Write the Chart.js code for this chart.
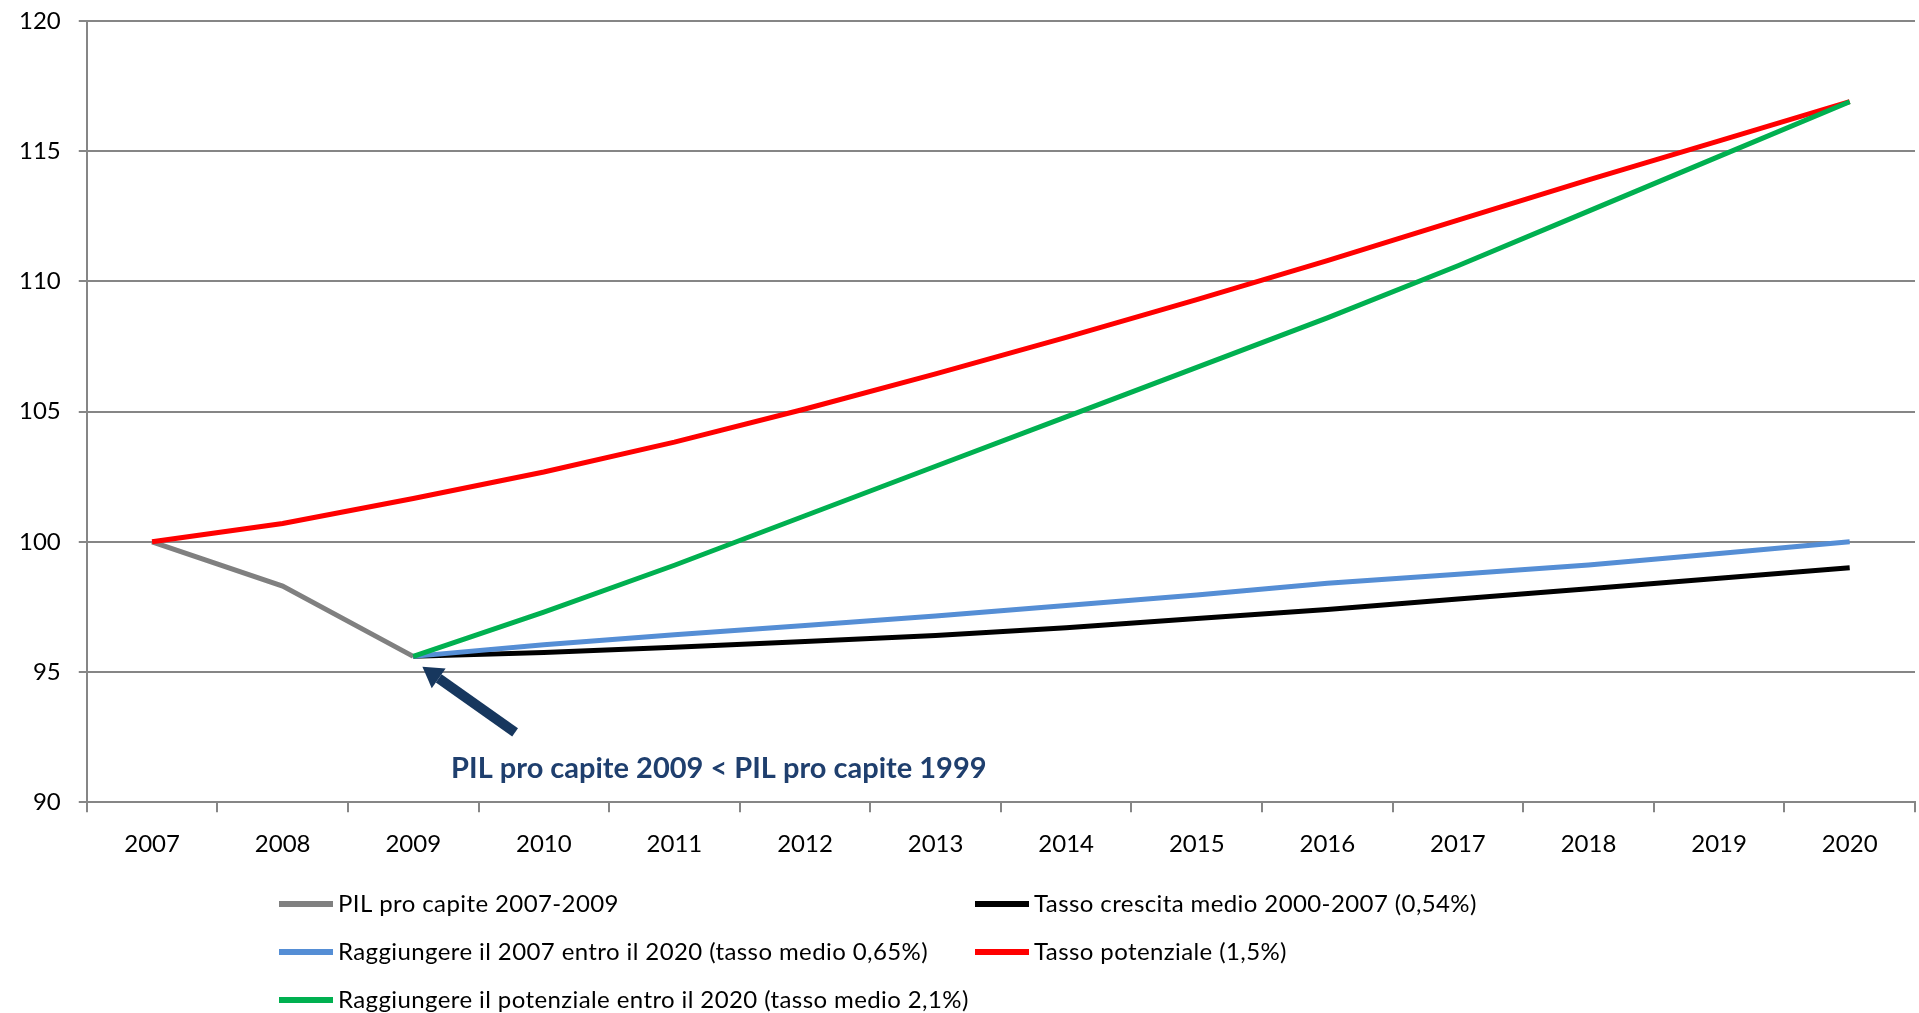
<!DOCTYPE html>
<html lang="it">
<head>
<meta charset="utf-8">
<title>PIL pro capite</title>
<script src="https://cdn.jsdelivr.net/npm/chart.js@4/dist/chart.umd.min.js"></script>
<style>
    html, body { margin: 0; padding: 0; background: #fff; }
    .chart-wrap { position: relative; width: 1919px; height: 1013px; }
</style>
</head>
<body>
<div class="chart-wrap"><canvas id="pilChart"></canvas></div>
<script>
var years = ['2007', '2008', '2009', '2010', '2011', '2012', '2013', '2014', '2015', '2016', '2017', '2018', '2019', '2020'];

var pil0709 = [100, 98.3, 95.6, null, null, null, null, null, null, null, null, null, null, null];
var tassoMedio = [null, null, 95.6, 95.75, 95.95, 96.17, 96.4, 96.7, 97.05, 97.4, 97.8, 98.2, 98.6, 99.0];
var raggiungere2007 = [null, null, 95.6, 96.05, 96.43, 96.79, 97.15, 97.55, 97.96, 98.41, 98.75, 99.11, 99.55, 100.0];
var tassoPotenziale = [100, 100.7, 101.66, 102.68, 103.83, 105.1, 106.45, 107.85, 109.3, 110.8, 112.35, 113.9, 115.4, 116.9];
var raggiungerePotenziale = [null, null, 95.6, 97.3, 99.1, 101.0, 102.9, 104.8, 106.7, 108.6, 110.6, 112.7, 114.8, 116.9];

var yTicks = [90, 95, 100, 105, 110, 115, 120];

var seriesLabels = [
    'PIL pro capite 2007-2009',
    'Tasso crescita medio 2000-2007 (0,54%)',
    'Raggiungere il 2007 entro il 2020 (tasso medio 0,65%)',
    'Tasso potenziale (1,5%)',
    'Raggiungere il potenziale entro il 2020 (tasso medio 2,1%)'
];

var noteText = 'PIL pro capite 2009 < PIL pro capite 1999';
// arrow and note placed in data units (category index, value)
var arrowTip = [2.07, 95.2];
var arrowTail = [2.78, 92.68];
var noteAt = [4.34, 91.3];

(function () {
    'use strict';

    var FONT = 'Lato, "Open Sans", sans-serif';
    var GRID = '#868686';

    function line(label, data, color, order) {
        return { label: label, data: data, borderColor: color, backgroundColor: color, borderWidth: 5, pointRadius: 0, pointHoverRadius: 0, tension: 0, fill: false, order: order };
    }

    var notePlugin = {
        id: 'notePlugin',
        afterDatasetsDraw: function (chart) {
            var ctx = chart.ctx, sx = chart.scales.x, sy = chart.scales.y;
            var tx = sx.getPixelForValue(arrowTip[0]), ty = sy.getPixelForValue(arrowTip[1]);
            var bx = sx.getPixelForValue(arrowTail[0]), by = sy.getPixelForValue(arrowTail[1]);
            var ang = Math.atan2(ty - by, tx - bx);
            var headLen = 20, headHalf = 12;
            var hx = tx - Math.cos(ang) * headLen, hy = ty - Math.sin(ang) * headLen;

            ctx.save();
            ctx.strokeStyle = '#17375E';
            ctx.fillStyle = '#17375E';
            ctx.lineWidth = 10;
            ctx.beginPath();
            ctx.moveTo(bx, by);
            ctx.lineTo(hx, hy);
            ctx.stroke();
            ctx.beginPath();
            ctx.moveTo(tx, ty);
            ctx.lineTo(hx + Math.sin(ang) * headHalf, hy - Math.cos(ang) * headHalf);
            ctx.lineTo(hx - Math.sin(ang) * headHalf, hy + Math.cos(ang) * headHalf);
            ctx.closePath();
            ctx.fill();

            ctx.font = 'bold 29px ' + FONT;
            ctx.textAlign = 'center';
            ctx.textBaseline = 'middle';
            ctx.fillStyle = '#1F3F6E';
            ctx.fillText(noteText, sx.getPixelForValue(noteAt[0]), sy.getPixelForValue(noteAt[1]));
            ctx.restore();
        }
    };

    // two-column legend under the axis, like the spreadsheet original
    var legendPlugin = {
        id: 'gridLegend',
        afterDraw: function (chart) {
            var ctx = chart.ctx;
            var cols = [279, 975];
            var rows = [904, 952, 1000];
            ctx.save();
            ctx.font = '24px ' + FONT;
            ctx.letterSpacing = '0.4px';
            ctx.textBaseline = 'middle';
            ctx.textAlign = 'left';
            chart.data.datasets.forEach(function (ds, i) {
                var lx = cols[i % 2], ly = rows[Math.floor(i / 2)];
                ctx.strokeStyle = ds.borderColor;
                ctx.lineWidth = 6;
                ctx.beginPath();
                ctx.moveTo(lx, ly);
                ctx.lineTo(lx + 54, ly);
                ctx.stroke();
                ctx.fillStyle = '#000';
                ctx.fillText(ds.label, lx + 59, ly);
            });
            ctx.restore();
        }
    };

    new Chart(document.getElementById('pilChart'), {
        type: 'line',
        data: {
            labels: years,
            datasets: [
                line(seriesLabels[0], pil0709, '#808080', 5),
                line(seriesLabels[1], tassoMedio, '#000000', 4),
                line(seriesLabels[2], raggiungere2007, '#558ED5', 3),
                line(seriesLabels[3], tassoPotenziale, '#FF0000', 2),
                line(seriesLabels[4], raggiungerePotenziale, '#00B050', 1)
            ]
        },
        options: {
            responsive: true,
            maintainAspectRatio: false,
            animation: false,
            layout: { padding: { top: 21, right: 4, bottom: 136, left: 1 } },
            plugins: { legend: { display: false }, tooltip: { enabled: false } },
            scales: {
                x: {
                    offset: true,
                    grid: { offset: true, drawOnChartArea: false, drawTicks: true, tickLength: 10, color: GRID, lineWidth: 2 },
                    border: { display: true, color: GRID, width: 2 },
                    ticks: { color: '#000', padding: 18, font: { family: FONT, size: 24 }, maxRotation: 0 }
                },
                y: {
                    min: 90,
                    max: 120,
                    afterBuildTicks: function (axis) { axis.ticks = yTicks.map(function (v) { return { value: v }; }); },
                    afterFit: function (axis) { axis.paddingTop = 0; axis.paddingBottom = 0; },
                    grid: { color: GRID, lineWidth: 2, tickLength: 8 },
                    border: { display: true, color: GRID, width: 2 },
                    ticks: { color: '#000', padding: 18, font: { family: FONT, size: 24 } }
                }
            }
        },
        plugins: [notePlugin, legendPlugin]
    });
}());
</script>
</body>
</html>
